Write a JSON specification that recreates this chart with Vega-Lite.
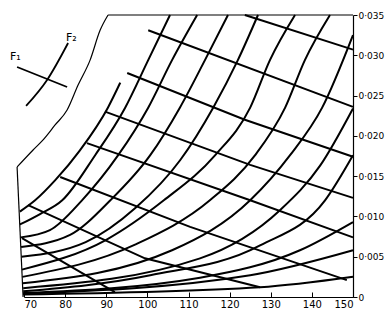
{
  "$schema": "https://vega.github.io/schema/vega-lite/v6.json",
  "width": 329,
  "height": 282,
  "autosize": {"type": "none"},
  "padding": {"left": 24, "top": 15, "right": 36, "bottom": 19},
  "background": "white",
  "config": {"view": {"stroke": null}, "font": "DejaVu Sans"},
  "datasets": {
    "frame": [
      {"g": "top", "i": 1, "T": 150, "w": 0.035},
      {"g": "top", "i": 2, "T": 90.44, "w": 0.035},
      {"g": "left", "i": 1, "T": 68.32, "w": 0.01614},
      {"g": "left", "i": 2, "T": 69.78, "w": 0}
    ],
    "sat": [
      {"T": 90.44, "w": 0.035},
      {"T": 88.5, "w": 0.0331},
      {"T": 86.07, "w": 0.0294},
      {"T": 83.15, "w": 0.0263},
      {"T": 80.48, "w": 0.0232},
      {"T": 77.56, "w": 0.02135},
      {"T": 74.64, "w": 0.0195},
      {"T": 72.21, "w": 0.01825},
      {"T": 68.32, "w": 0.01614}
    ],
    "rise": [
      {"g": "R1", "T": 69.0, "w": 0.0106}, {"g": "R1", "T": 72.7, "w": 0.012}, {"g": "R1", "T": 77.6, "w": 0.0145}, {"g": "R1", "T": 83.6, "w": 0.0182}, {"g": "R1", "T": 90.4, "w": 0.0235}, {"g": "R1", "T": 93.4, "w": 0.0266},
      {"g": "R2", "T": 69.0, "w": 0.009}, {"g": "R2", "T": 73.9, "w": 0.0103}, {"g": "R2", "T": 79.3, "w": 0.012}, {"g": "R2", "T": 87.3, "w": 0.0176}, {"g": "R2", "T": 94.6, "w": 0.0235}, {"g": "R2", "T": 100.2, "w": 0.0294}, {"g": "R2", "T": 105.5, "w": 0.035},
      {"g": "R3", "T": 69.2, "w": 0.0074}, {"g": "R3", "T": 76.3, "w": 0.0083}, {"g": "R3", "T": 84.1, "w": 0.012}, {"g": "R3", "T": 92.9, "w": 0.0176}, {"g": "R3", "T": 100.2, "w": 0.0235}, {"g": "R3", "T": 106.0, "w": 0.0294}, {"g": "R3", "T": 112.1, "w": 0.035},
      {"g": "R4", "T": 69.3, "w": 0.0062}, {"g": "R4", "T": 81.2, "w": 0.0077}, {"g": "R4", "T": 91.0, "w": 0.012}, {"g": "R4", "T": 100.7, "w": 0.0176}, {"g": "R4", "T": 107.9, "w": 0.0235}, {"g": "R4", "T": 114.0, "w": 0.0294}, {"g": "R4", "T": 119.6, "w": 0.035},
      {"g": "R5", "T": 69.4, "w": 0.005}, {"g": "R5", "T": 85.0, "w": 0.0068}, {"g": "R5", "T": 97.0, "w": 0.011}, {"g": "R5", "T": 108.0, "w": 0.017}, {"g": "R5", "T": 116.0, "w": 0.0235}, {"g": "R5", "T": 122.0, "w": 0.0294}, {"g": "R5", "T": 126.9, "w": 0.035},
      {"g": "R6", "T": 69.5, "w": 0.0034}, {"g": "R6", "T": 90.0, "w": 0.0071}, {"g": "R6", "T": 104.0, "w": 0.012}, {"g": "R6", "T": 116.5, "w": 0.0176}, {"g": "R6", "T": 125.0, "w": 0.0235}, {"g": "R6", "T": 129.8, "w": 0.0294}, {"g": "R6", "T": 135.9, "w": 0.035},
      {"g": "R7", "T": 69.6, "w": 0.0025}, {"g": "R7", "T": 97.0, "w": 0.0065}, {"g": "R7", "T": 115.2, "w": 0.012}, {"g": "R7", "T": 126.2, "w": 0.0176}, {"g": "R7", "T": 133.5, "w": 0.0235}, {"g": "R7", "T": 138.3, "w": 0.0294}, {"g": "R7", "T": 144.4, "w": 0.035},
      {"g": "R8", "T": 69.7, "w": 0.0017}, {"g": "R8", "T": 106.0, "w": 0.0058}, {"g": "R8", "T": 125.0, "w": 0.012}, {"g": "R8", "T": 134.7, "w": 0.0176}, {"g": "R8", "T": 142.5, "w": 0.0235}, {"g": "R8", "T": 150.0, "w": 0.0325},
      {"g": "R9", "T": 69.8, "w": 0.0011}, {"g": "R9", "T": 112.8, "w": 0.0048}, {"g": "R9", "T": 132.3, "w": 0.0108}, {"g": "R9", "T": 142.0, "w": 0.0163}, {"g": "R9", "T": 150.0, "w": 0.0234},
      {"g": "R10", "T": 69.8, "w": 0.0007}, {"g": "R10", "T": 100.7, "w": 0.0027}, {"g": "R10", "T": 127.4, "w": 0.0064}, {"g": "R10", "T": 143.2, "w": 0.012}, {"g": "R10", "T": 150.0, "w": 0.0176},
      {"g": "R11", "T": 69.8, "w": 0.0005}, {"g": "R11", "T": 112.8, "w": 0.0024}, {"g": "R11", "T": 137.1, "w": 0.0058}, {"g": "R11", "T": 150.0, "w": 0.0093},
      {"g": "R12", "T": 69.8, "w": 0.0004}, {"g": "R12", "T": 125.0, "w": 0.0027}, {"g": "R12", "T": 150.0, "w": 0.0058},
      {"g": "R13", "T": 69.8, "w": 0.0003}, {"g": "R13", "T": 127.4, "w": 0.0012}, {"g": "R13", "T": 150.0, "w": 0.0025}
    ],
    "desc": [
      {"g": "D0", "T": 123.7, "w": 0.035}, {"g": "D0", "T": 150, "w": 0.0307},
      {"g": "D1", "T": 100.2, "w": 0.0331}, {"g": "D1", "T": 150, "w": 0.0236},
      {"g": "D2", "T": 95.1, "w": 0.0278}, {"g": "D2", "T": 123.7, "w": 0.022}, {"g": "D2", "T": 150, "w": 0.0174},
      {"g": "D3", "T": 89.7, "w": 0.023}, {"g": "D3", "T": 125.0, "w": 0.0164}, {"g": "D3", "T": 150, "w": 0.0123},
      {"g": "D4", "T": 85.3, "w": 0.0191}, {"g": "D4", "T": 125.0, "w": 0.012}, {"g": "D4", "T": 150, "w": 0.0074},
      {"g": "D5", "T": 78.8, "w": 0.0149}, {"g": "D5", "T": 110.4, "w": 0.0087}, {"g": "D5", "T": 148.5, "w": 0.0021},
      {"g": "D6", "T": 71.0, "w": 0.0114}, {"g": "D6", "T": 99.4, "w": 0.0048}, {"g": "D6", "T": 127.4, "w": 0.0012},
      {"g": "D7", "T": 69.5, "w": 0.0073}, {"g": "D7", "T": 92.1, "w": 0.0006}
    ],
    "key": [
      {"g": "F1", "T": 68.32, "w": 0.02855}, {"g": "F1", "T": 80.48, "w": 0.02606},
      {"g": "F2", "T": 80.72, "w": 0.03152}, {"g": "F2", "T": 75.61, "w": 0.02693}, {"g": "F2", "T": 70.51, "w": 0.02371}
    ],
    "labels": [
      {"t": "F₁", "T": 67.9, "w": 0.0298},
      {"t": "F₂", "T": 81.5, "w": 0.0321}
    ]
  },
  "encoding": {
    "x": {"field": "T", "type": "quantitative", "scale": {"domain": [70, 150], "nice": false, "zero": false},
      "axis": {"orient": "bottom", "values": [70, 80, 90, 100, 110, 120, 130, 140, 150], "grid": false, "title": null,
        "domainColor": "black", "domainWidth": 1.2, "tickColor": "black", "tickSize": -5, "labelPadding": 7,
        "labelColor": "black", "labelFontSize": 10, "labelFont": "DejaVu Sans"}},
    "y": {"field": "w", "type": "quantitative", "scale": {"domain": [0, 0.035], "nice": false, "zero": false},
      "axis": {"orient": "right", "values": [0, 0.005, 0.01, 0.015, 0.02, 0.025, 0.03, 0.035], "grid": false, "title": null,
        "domainColor": "black", "domainWidth": 1.2, "tickColor": "black", "tickSize": 4, "labelPadding": 1,
        "labelColor": "black", "labelFontSize": 9, "labelFont": "DejaVu Sans",
        "labelExpr": "datum.value == 0 ? '0' : replace(format(datum.value, '.3f'), '.', '·')"}}
  },
  "layer": [
    {"data": {"name": "frame"}, "mark": {"type": "line", "color": "black", "strokeWidth": 1.2, "interpolate": "linear"},
      "encoding": {"detail": {"field": "g"}, "order": {"field": "i"}}},
    {"data": {"name": "sat"}, "mark": {"type": "line", "color": "black", "strokeWidth": 1.2, "interpolate": "monotone"},
      "encoding": {}},
    {"data": {"name": "rise"}, "mark": {"type": "line", "color": "black", "strokeWidth": 2, "interpolate": "monotone"},
      "encoding": {"detail": {"field": "g"}}},
    {"data": {"name": "desc"}, "mark": {"type": "line", "color": "black", "strokeWidth": 2, "interpolate": "linear"},
      "encoding": {"detail": {"field": "g"}}},
    {"data": {"name": "key"}, "mark": {"type": "line", "color": "black", "strokeWidth": 1.8, "interpolate": "monotone"},
      "encoding": {"detail": {"field": "g"}}},
    {"data": {"name": "labels"}, "mark": {"type": "text", "color": "black", "fontSize": 11, "font": "DejaVu Sans"},
      "encoding": {"text": {"field": "t"}}}
  ]
}
